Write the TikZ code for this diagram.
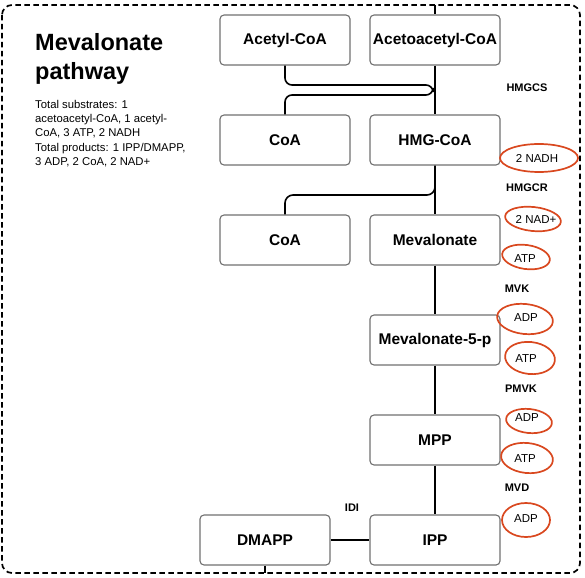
\documentclass[tikz,border=0pt]{standalone}
\usepackage{fontspec}
\setmainfont{Liberation Sans}
\usetikzlibrary{positioning}
\definecolor{boxgray}{HTML}{707070}
\definecolor{inkred}{HTML}{D9481F}
\begin{document}
\begin{tikzpicture}[x=1pt,y=-1pt,
  mol/.style={draw=boxgray,line width=1.1pt,rounded corners=4pt,minimum width=130pt,minimum height=50pt,inner sep=0pt,font=\fontsize{15.5}{18}\selectfont\bfseries},
  conn/.style={black,line width=1.6pt},
  enz/.style={font=\fontsize{11}{13}\selectfont\bfseries,inner sep=0pt},
  cof/.style={font=\fontsize{11.5}{13}\selectfont,inner sep=0pt},
  ring/.style={draw=inkred,line width=1.7pt}]
\useasboundingbox (0,0) rectangle (585,577);
% border
\draw[line width=1.7pt,dash pattern=on 5.5pt off 3.5pt,rounded corners=10pt] (2,5) rectangle (580,573);
% title and text
\node[anchor=north west,inner sep=0pt,align=left,font=\fontsize{23.5}{29}\selectfont\bfseries] (title) at (35,33) {Mevalonate\\pathway};
\node[anchor=north west,inner sep=0pt,align=left,font=\fontsize{11.3}{14.3}\selectfont] (desc) at (35,100) {Total substrates: 1\\acetoacetyl-CoA, 1 acetyl-\\CoA, 3 ATP, 2 NADH\\Total products: 1 IPP/DMAPP,\\3 ADP, 2 CoA, 2 NAD+};
% boxes
\node[mol] (ac) at (285,40) {Acetyl-CoA};
\node[mol] (aac) at (435,40) {Acetoacetyl-CoA};
\node[mol] (coa1) at (285,140) {CoA};
\node[mol] (hmg) at (435,140) {HMG-CoA};
\node[mol] (coa2) at (285,240) {CoA};
\node[mol] (mev) at (435,240) {Mevalonate};
\node[mol] (m5p) at (435,340) {Mevalonate-5-p};
\node[mol] (mpp) at (435,440) {MPP};
\node[mol] (ipp) at (435,540) {IPP};
\node[mol] (dma) at (265,540) {DMAPP};
% border stubs
\coordinate (top) at (435,5);
\coordinate (bot) at (265,573);
\draw[conn,line width=1.2pt] (top) -- (aac.north);
\draw[conn,line width=1.2pt] (dma.south) -- (bot);
% connectors
\draw[conn] (aac.south) -- (hmg.north);
\draw[conn,rounded corners=7pt] (ac.south) -- (285,85) -- (433,85) -- (433,95) -- (285,95) -- (coa1.north);
\draw[conn] (hmg.south) -- (mev.north);
\draw[conn,rounded corners=8pt] (hmg.south) -- (435,195) -- (285,195) -- (coa2.north);
\draw[conn] (mev.south) -- (m5p.north);
\draw[conn] (m5p.south) -- (mpp.north);
\draw[conn] (mpp.south) -- (ipp.north);
\draw[conn] (dma.east) -- (ipp.west);
% enzyme labels
\node[enz] (e1) at (527,88) {HMGCS};
\node[enz] (e2) at (527,188) {HMGCR};
\node[enz] (e3) at (517,289) {MVK};
\node[enz] (e4) at (521,389) {PMVK};
\node[enz] (e5) at (517,488) {MVD};
\node[enz] (e6) at (352,508) {IDI};
% cofactors
\node[cof] (c1) at (537,158) {2 NADH};
\node[cof] (c2) at (536,219) {2 NAD+};
\node[cof] (c3) at (525,259) {ATP};
\node[cof] (c4) at (526,318) {ADP};
\node[cof] (c5) at (526,359) {ATP};
\node[cof] (c6) at (527,418) {ADP};
\node[cof] (c7) at (525,459) {ATP};
\node[cof] (c8) at (526,519) {ADP};
% red hand-drawn rings
\draw[ring] (539,158) ellipse [x radius=39pt,y radius=14pt];
\draw[ring,rotate around={-6:(533,219)}] (533,219) ellipse [x radius=28pt,y radius=12pt];
\draw[ring,rotate around={-8:(526,257)}] (526,257) ellipse [x radius=24pt,y radius=12pt];
\draw[ring,rotate around={-6:(525,319)}] (525,319) ellipse [x radius=28pt,y radius=15pt];
\draw[ring,rotate around={-6:(530,358)}] (530,358) ellipse [x radius=25pt,y radius=16pt];
\draw[ring,rotate around={-6:(529,421)}] (529,421) ellipse [x radius=23pt,y radius=12pt];
\draw[ring,rotate around={-6:(527,458)}] (527,458) ellipse [x radius=26pt,y radius=15pt];
\draw[ring] (526,520) ellipse [x radius=24pt,y radius=17pt];
\end{tikzpicture}
\end{document}
